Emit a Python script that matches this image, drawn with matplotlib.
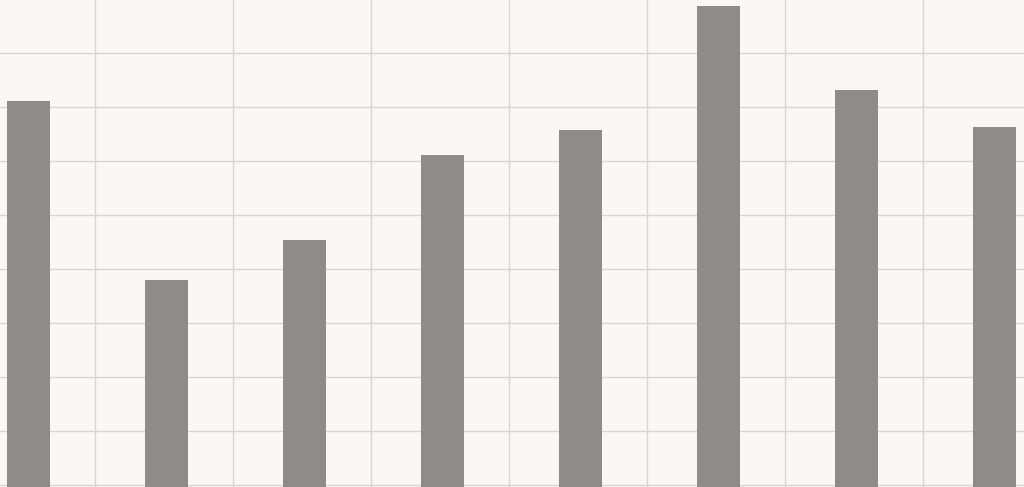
import numpy as np
import matplotlib.pyplot as plt

# bar heights (one grid step = 1 unit)
categories = ["A", "B", "C", "D", "E", "F", "G", "H"]
values = [7.11, 3.80, 4.54, 6.11, 6.57, 8.87, 7.31, 6.63]

bg = "#fbf8f3"
bar_color = "#8f8b88"
grid_color = "#d9d6d1"

fig = plt.figure(figsize=(10.24, 4.87), dpi=100)
fig.patch.set_facecolor(bg)
ax = fig.add_axes([0, 0, 1, 1])
ax.set_facecolor(bg)

x = np.arange(len(categories))
y_low = -0.04
ax.bar(x, np.array(values) - y_low, bottom=y_low, width=0.31,
       color=bar_color, zorder=3)

ax.set_xticks(np.arange(-1, 8) + 0.477)
ax.set_yticks(np.arange(0, 9))
# limits after the ticks, otherwise set_xticks widens the view
ax.set_xlim(-0.208, 7.212)
ax.set_ylim(y_low, 8.98)
ax.grid(True, color=grid_color, linewidth=1.0, zorder=0)
ax.tick_params(length=0, labelbottom=False, labelleft=False)
for s in ax.spines.values():
    s.set_visible(False)

fig.savefig("out.png", dpi=100, facecolor=bg)
